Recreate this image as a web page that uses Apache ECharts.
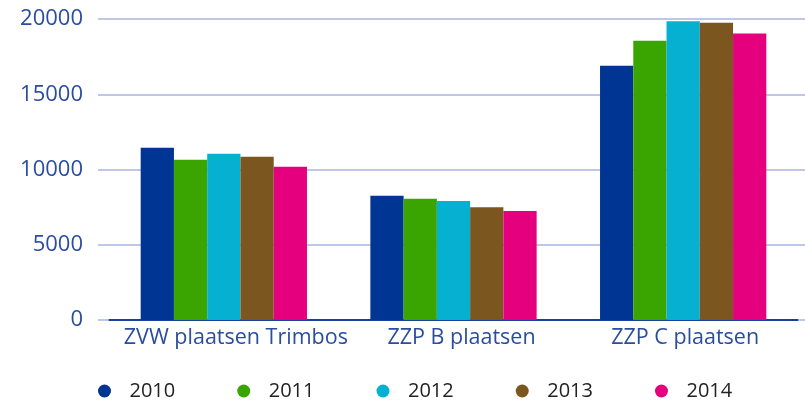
<!DOCTYPE html>
<html>
<head>
<meta charset="utf-8">
<script src="https://cdn.jsdelivr.net/npm/echarts@6/dist/echarts.min.js"></script>
<style>
  html, body { margin: 0; padding: 0; background: #fff; }
  #chart { width: 805px; height: 401px; }
</style>
</head>
<body>
<div id="chart"></div>
<script>
// categories and values
const categories = ['ZVW plaatsen Trimbos', 'ZZP B plaatsen', 'ZZP C plaatsen']
const years = ['2010', '2011', '2012', '2013', '2014']
const values2010 = [11450, 8250, 16900]
const values2011 = [10650, 8050, 18550]
const values2012 = [11050, 7900, 19850]
const values2013 = [10850, 7500, 19750]
const values2014 = [10180, 7250, 19030]
const yTicks = [0, 5000, 10000, 15000, 20000]

const colors = ['#003594', '#3aa500', '#05b0d1', '#7c561f', '#e5007e']
const seriesData = [values2010, values2011, values2012, values2013, values2014]

const chart = echarts.init(document.getElementById('chart'))

const gridColor = '#a9b5dc'
const blueText = '#2a4d9f'
// labels in the original sit a bit right of the bar groups
const labelShift = [24, 16, 4]

chart.setOption({
  animation: false,
  textStyle: { fontFamily: 'Open Sans' },
  grid: { left: 109, right: 7, top: 19, bottom: 81, containLabel: false },
  legend: {
    data: years,
    left: 93,
    top: 376,
    icon: 'circle',
    itemWidth: 40,
    itemHeight: 13,
    itemGap: 62,
    textStyle: { color: '#222', fontSize: 20, fontFamily: 'Open Sans' }
  },
  xAxis: {
    type: 'category',
    data: categories,
    axisLine: { lineStyle: { color: '#1a3e9a', width: 2 } },
    axisTick: { show: false },
    axisLabel: {
      color: blueText,
      fontSize: 21.5,
      margin: 7,
      interval: 0,
      formatter: (v, i) => '{l' + i + '|' + v + '}',
      rich: {
        l0: { color: blueText, fontSize: 21.5, padding: [0, 0, 0, labelShift[0]] },
        l1: { color: blueText, fontSize: 21.5, padding: [0, 0, 0, labelShift[1]] },
        l2: { color: blueText, fontSize: 21.5, padding: [0, 0, 0, labelShift[2]] }
      }
    }
  },
  yAxis: [{
    type: 'value',
    min: yTicks[0],
    max: yTicks[yTicks.length - 1],
    interval: 5000,
    axisLine: { show: false },
    axisTick: { show: true, length: 11, lineStyle: { color: gridColor, width: 1.5 } },
    axisLabel: { color: blueText, fontSize: 22, margin: 26, formatter: v => String(v) },
    splitLine: { lineStyle: { color: gridColor, width: 1.5 } }
  }, {
    type: 'value',
    position: 'right',
    min: yTicks[0],
    max: yTicks[yTicks.length - 1],
    interval: 5000,
    axisLine: { show: false },
    axisTick: { show: true, length: 8, lineStyle: { color: gridColor, width: 1.5 } },
    axisLabel: { show: false },
    splitLine: { show: false }
  }],
  series: years.map((y, i) => ({
    name: y,
    type: 'bar',
    data: seriesData[i],
    barGap: '0%',
    barCategoryGap: '27.6%',
    itemStyle: { color: colors[i] }
  }))
})
</script>
</body>
</html>
